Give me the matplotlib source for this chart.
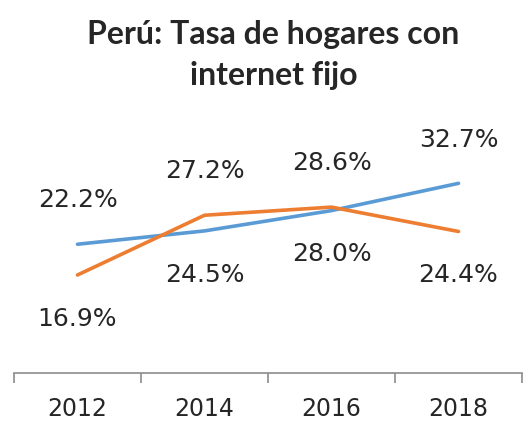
import numpy as np
import matplotlib
matplotlib.use("Agg")
import matplotlib.pyplot as plt

# Datos
anios = ["2012", "2014", "2016", "2018"]
serie_azul = [22.2, 24.5, 28.0, 32.7]
serie_naranja = [16.9, 27.2, 28.6, 24.4]
# posición de la etiqueta: +1 arriba, -1 abajo
pos_azul = [1, -1, -1, 1]
pos_naranja = [-1, 1, 1, -1]

AZUL = "#5B9BD5"
NARANJA = "#ED7D31"

fig = plt.figure(figsize=(5.31, 4.21), dpi=100)
ax = fig.add_axes([14 / 531, 48 / 421, 508 / 531, 232 / 421])

x = np.arange(len(anios))
ax.plot(x, serie_azul, color=AZUL, lw=2.6, solid_capstyle="round")
ax.plot(x, serie_naranja, color=NARANJA, lw=2.6, solid_capstyle="round")

for serie, pos in [(serie_azul, pos_azul), (serie_naranja, pos_naranja)]:
    for xi, v, p in zip(x, serie, pos):
        ax.annotate(f"{v:.1f}%", (xi, v), xytext=(0, 31.5 * p), textcoords="offset points",
                    ha="center", va="center", fontsize=18, color="#262626")

ax.set_xlim(-0.5, 3.5)
ax.set_ylim(0, 40)
for lado in ["top", "right", "left"]:
    ax.spines[lado].set_visible(False)
ax.spines["bottom"].set_color("#8c8c8c")
ax.spines["bottom"].set_linewidth(1.2)
ax.set_yticks([])
ax.set_xticks(x)
ax.set_xticklabels(anios, fontsize=17, color="#262626")
ax.tick_params(axis="x", which="major", length=0, pad=17)
ax.set_xticks(np.arange(-0.5, 4, 1), minor=True)
ax.tick_params(axis="x", which="minor", length=7, width=1.2, color="#8c8c8c")

fig.text(0.515, 0.869, "Perú: Tasa de hogares con\ninternet fijo", ha="center", va="center",
         fontsize=23, fontweight="bold", family="Lato", color="#262626", linespacing=1.5)

fig.savefig("out.png", dpi=100)
